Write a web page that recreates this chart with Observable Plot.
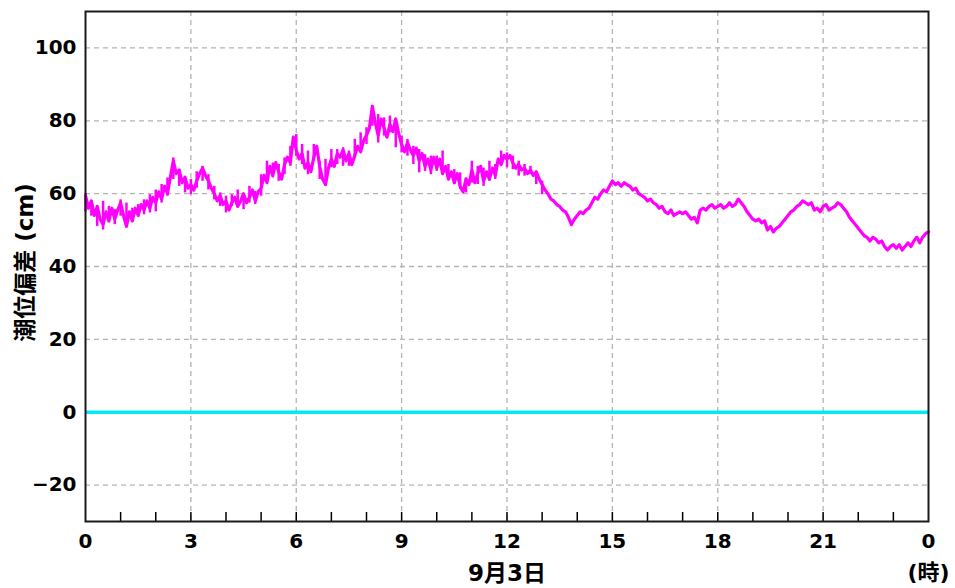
<!DOCTYPE html>
<html>
<head>
<meta charset="utf-8">
<script src="https://cdn.jsdelivr.net/npm/d3@7"></script>
<script src="https://cdn.jsdelivr.net/npm/@observablehq/plot@0.6"></script>
<style>
  body { margin: 0; background: #fff; }
  #chart svg { display: block; }
</style>
</head>
<body>
<div id="chart"></div>
<script>
// 潮位偏差 (cm), 5-minute samples from 0:00 to 24:00 on 9月3日
const stepMinutes = 5;
const tideDeviation = [
  // 0h
  59.5, 56, 58, 54, 56.5, 53, 51.5, 55, 52.5, 56, 53, 55.5,
  // 1h
  57.5, 54, 51, 55, 52.5, 56, 54, 57, 55.5, 58, 56, 59,
  // 2h
  57.5, 60.5, 58.5, 62, 60, 64.5, 69, 65.5, 66.5, 63, 64.5, 61.5,
  // 3h
  62.5, 61, 63.5, 65.5, 67, 65, 63.5, 61.5, 60, 58, 59.5, 57,
  // 4h
  58, 55.5, 57.5, 59, 56.5, 58, 60, 57.5, 59, 61, 58, 60.5,
  // 5h
  61.5, 65, 63, 67.5, 65, 68.5, 66, 64, 68, 70, 68.5, 75.5,
  // 6h
  72, 69.5, 71, 67, 68.5, 66, 70, 73, 67.5, 64, 62.5, 67,
  // 7h
  69.5, 67.5, 71, 70, 72, 69, 71, 68, 70.5, 73, 71.5, 74.5,
  // 8h
  76, 78, 84, 79.5, 76, 80.5, 78, 75.5, 79, 77, 80.5, 76.5,
  // 9h
  73.5, 71.5, 74, 72, 70.5, 72.5, 69, 71, 67.5, 69.5, 66.5, 70,
  // 10h
  67, 69.5, 65.5, 67.5, 64, 66, 63, 65.5, 62, 60.5, 64, 62.5,
  // 11h
  66.5, 63, 65.5, 67.5, 63.5, 66, 64, 67, 65, 69.5, 68, 70.5,
  // 12h
  69.5, 70.5, 68.5, 67, 68, 66.5, 67, 65.5, 66.5, 65, 66, 64,
  // 13h
  62.5, 61, 60, 58.5, 58, 57, 56.5, 55.5, 55, 53.5, 51.5, 53,
  // 14h
  54, 55, 54.5, 55.5, 56, 57.5, 59, 58.5, 60, 61, 60.5, 62,
  // 15h
  63.5, 62.5, 63, 62, 63, 62.5, 62, 61, 61.5, 60, 59.5, 59,
  // 16h
  58, 58.5, 57.5, 57, 56, 56.5, 55, 54.5, 55.5, 54, 54.5, 55,
  // 17h
  54.5, 55, 54, 53, 53.5, 52, 55.5, 56, 55.5, 56.5, 57, 56,
  // 18h
  56.5, 57, 56, 56.5, 57.5, 56.5, 57, 58.5, 57.5, 56.5, 55, 54,
  // 19h
  53, 52.5, 53, 52, 52.5, 50, 51, 49.5, 50.5, 51, 52, 53,
  // 20h
  54, 55, 55.5, 56.5, 57, 58, 57.5, 57, 57.5, 55.5, 56, 55,
  // 21h
  56.5, 57, 55.5, 56, 56.5, 57.5, 57, 56, 55, 53.5, 52.5, 51.5,
  // 22h
  50.5, 49.5, 48.5, 48, 47, 48, 47.5, 46.5, 47, 45.5, 44.5, 45.5,
  // 23h
  46, 45, 46, 44.5, 45.5, 46.5, 45.5, 47, 48, 46.5, 48, 49,
  // 24h
  49.5
];

// Envelope of the short-period fluctuation, 10-minute steps, 0:00 to 13:00
const bandStepMinutes = 10;
const bandLow = [
  55, 53.8, 51, 50, 52, 51.5,
  53.8, 51, 52.4, 53.8, 54.2, 54.7,
  55, 57.4, 59.3, 63.9, 62, 60.2,
  59.7, 61.5, 63.4, 61, 58.3, 56.5,
  54.7, 56.5, 57, 55.6, 57.4, 57,
  59.3, 63.4, 64.3, 63.4, 65.2, 67.5,
  70.3, 68, 65.2, 68.9, 63.9, 62,
  67.1, 68, 67.5, 67.5, 69.8, 71.7,
  73.5, 78.5, 73.9, 75.8, 76.7, 72.6,
  71.2, 70.3, 68, 65.7, 66.1, 65.2,
  66.1, 66.1, 63.9, 62.5, 61.1, 60.2,
  62.9, 62.5, 62, 63.4, 63.9, 68,
  67.1, 66.6, 64.8, 64.8, 65.2, 62.5,
  59.7
];
const bandHigh = [
  60, 57.4, 56.5, 57.9, 56.5, 55.6,
  58.3, 57.4, 56, 57, 58.3, 59.7,
  61, 62.5, 64.3, 69.8, 66.6, 64.3,
  63.9, 66, 67.5, 65.2, 62, 60.2,
  59.3, 59.7, 61, 59.7, 62, 60.6,
  65.2, 68.9, 68.4, 68, 69.8, 73,
  76.2, 73.5, 71.7, 73.5, 68.9, 69.4,
  72.1, 72.1, 72.6, 71.7, 74.9, 76.7,
  78.1, 84, 81.7, 80.8, 81.3, 78.5,
  75.8, 74.9, 73, 72.1, 70.7, 70.3,
  70.3, 71.7, 68, 66.6, 65.7, 64.3,
  68.9, 67.5, 67, 68.9, 68, 71.7,
  71.2, 70.3, 68.9, 68, 67.5, 65.7,
  63.4
];

const xTicks = [0, 3, 6, 9, 12, 15, 18, 21, 24];
const xTickLabels = ["0", "3", "6", "9", "12", "15", "18", "21", "0"];
const hourTicks = [1, 2, 3, 4, 5, 6, 7, 8, 9, 10, 11, 12, 13, 14, 15, 16, 17, 18, 19, 20, 21, 22, 23];
const yTicks = [-20, 0, 20, 40, 60, 80, 100];
const yDomain = [-30, 110];
const xDomain = [0, 24];

const yLabel = "潮位偏差 (cm)";
const xLabel = "9月3日";
const unitLabel = "(時)";

const data = tideDeviation.map((v, i) => ({hour: i * stepMinutes / 60, value: v}));
const band = bandLow.map((lo, i) => ({hour: i * bandStepMinutes / 60, lo, hi: bandHigh[i]}));

const W = 955, H = 588;
const margins = {top: 11, right: 27, bottom: 67, left: 85};
const pxPerUnit = (H - margins.top - margins.bottom) / (yDomain[1] - yDomain[0]);
const innerTick = 9 / pxPerUnit;

const fontFamily = '"DejaVu Sans", "Noto Sans CJK JP", sans-serif';
const magenta = "#ff00ff";

const chart = Plot.plot({
  width: W,
  height: H,
  marginTop: margins.top,
  marginRight: margins.right,
  marginBottom: margins.bottom,
  marginLeft: margins.left,
  style: {fontFamily, fontSize: "20px", fontWeight: "bold", color: "#000", background: "#fff"},
  x: {domain: xDomain},
  y: {domain: yDomain},
  marks: [
    Plot.gridY(yTicks, {stroke: "#b4b4b4", strokeOpacity: 1, strokeWidth: 1.3, strokeDasharray: "5,4"}),
    Plot.gridX(xTicks.slice(1, -1), {stroke: "#b4b4b4", strokeOpacity: 1, strokeWidth: 1.3, strokeDasharray: "5,4"}),
    Plot.axisY(yTicks, {tickSize: 0, tickPadding: 9, label: null, fontSize: 20}),
    Plot.axisX(xTicks, {tickSize: 0, tickPadding: 12, label: null, tickFormat: (d) => xTickLabels[xTicks.indexOf(d)], fontSize: 20}),
    Plot.ruleY([0], {stroke: "#00ecf2", strokeWidth: 3.5}),
    Plot.ruleX(band, {x: "hour", y1: "lo", y2: "hi", stroke: magenta, strokeWidth: 2.5}),
    Plot.line(data, {x: "hour", y: "value", stroke: magenta, strokeWidth: 3.2}),
    Plot.ruleX(hourTicks, {y1: yDomain[0], y2: yDomain[0] + innerTick, stroke: "#000", strokeWidth: 1.5}),
    Plot.frame({stroke: "#1a1a1a", strokeWidth: 2}),
    Plot.text([yLabel], {frameAnchor: "left", dx: -60, dy: -4, rotate: -90, textAnchor: "middle", lineAnchor: "middle", fontSize: 23, fontWeight: "bold", fill: "#000"}),
    Plot.text([xLabel], {frameAnchor: "bottom", dy: 52, textAnchor: "middle", lineAnchor: "middle", fontSize: 23, fontWeight: "bold", fill: "#000"}),
    Plot.text([unitLabel], {frameAnchor: "bottom-right", dy: 51, dx: 0, textAnchor: "middle", lineAnchor: "middle", fontSize: 22, fontWeight: "bold", fill: "#000"})
  ]
});

document.getElementById("chart").appendChild(chart);
</script>
</body>
</html>
